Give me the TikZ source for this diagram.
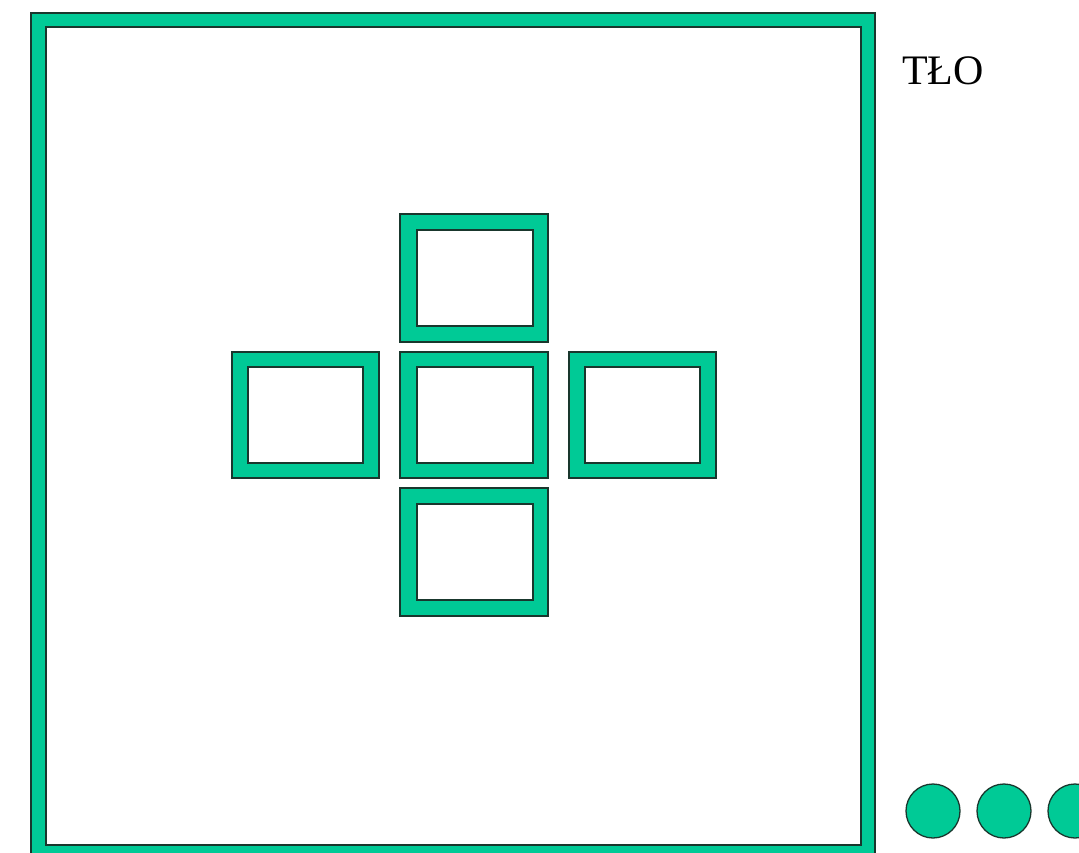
\documentclass[tikz,border=0pt]{standalone}
\usepackage{fontspec}
\setmainfont{Liberation Serif}
\definecolor{ramka}{RGB}{0,202,150}
\definecolor{obrys}{RGB}{25,55,45}
\begin{document}
\begin{tikzpicture}[x=1pt,y=-1pt,
    pole/.style={fill = ramka, draw = obrys, line width = 1.3pt, even odd rule},
    kulka/.style={fill = ramka, draw = obrys, line width = 1.3pt}]
            \useasboundingbox (0,0) rectangle (1079,853);
            \clip (0,0) rectangle (1079,853);
            \fill[white] (0,0) rectangle (1079,853);
            % duza ramka
            \filldraw[pole] (31,13) rectangle (875,860) (46,27) rectangle (861,845);
            % krzyz z pieciu ramek
            \filldraw[pole] (400,214) rectangle (548,342) (417,230) rectangle (533,326);
            \filldraw[pole] (232,352) rectangle (379,478) (248,367) rectangle (363,463);
            \filldraw[pole] (400,352) rectangle (548,478) (417,367) rectangle (533,463);
            \filldraw[pole] (569,352) rectangle (716,478) (585,367) rectangle (700,463);
            \filldraw[pole] (400,488) rectangle (548,616) (417,504) rectangle (533,600);
            \node[anchor=base west, inner sep=0pt, font=\fontsize{42}{48}\selectfont] (tlo) at (902,85) {TŁO};
            \filldraw[kulka] (933,811) circle (27);
            \filldraw[kulka] (1004,811) circle (27);
            \filldraw[kulka] (1075,811) circle (27);
        \end{tikzpicture}
\end{document}
